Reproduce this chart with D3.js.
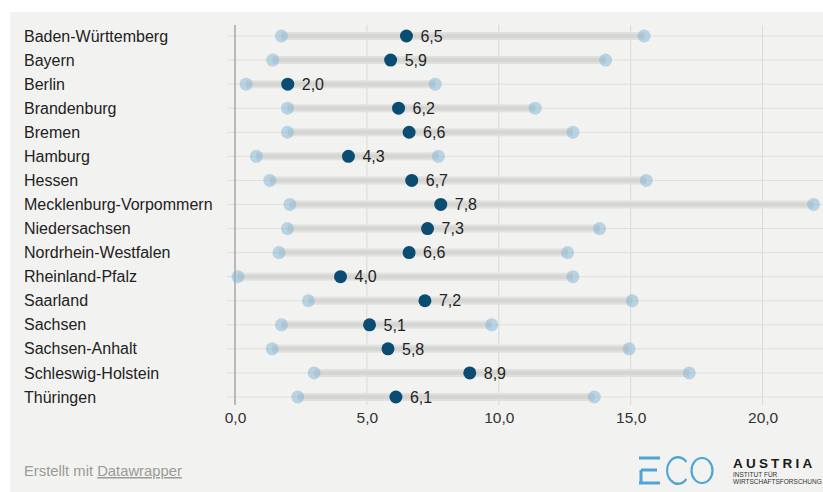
<!DOCTYPE html>
<html>
<head>
<meta charset="utf-8">
<script src="https://cdn.jsdelivr.net/npm/d3@7"></script>
<style>
  html, body { margin: 0; padding: 0; background: #ffffff; }
  svg { display: block; }
  text { font-family: "Liberation Sans", Arial, Helvetica, sans-serif; }
</style>
</head>
<body>
<svg id="chart" width="823" height="492"></svg>
<script>
// Bundesländer, ordered top to bottom
const states = [
  "Baden-Württemberg", "Bayern", "Berlin", "Brandenburg", "Bremen", "Hamburg",
  "Hessen", "Mecklenburg-Vorpommern", "Niedersachsen", "Nordrhein-Westfalen",
  "Rheinland-Pfalz", "Saarland", "Sachsen", "Sachsen-Anhalt",
  "Schleswig-Holstein", "Thüringen"
];
// lower end of the range per state
const lowValues = [1.76, 1.43, 0.42, 1.99, 1.99, 0.81, 1.32, 2.08, 1.99, 1.67,
                   0.11, 2.78, 1.76, 1.41, 3.0, 2.38];
// highlighted value (labelled)
const midValues = [6.5, 5.9, 2.0, 6.2, 6.6, 4.3, 6.7, 7.8, 7.3, 6.6,
                   4.0, 7.2, 5.1, 5.8, 8.9, 6.1];
// upper end of the range per state
const highValues = [15.51, 14.05, 7.59, 11.38, 12.81, 7.71, 15.59, 21.93, 13.82, 12.61,
                    12.81, 15.06, 9.73, 14.94, 17.22, 13.62];
const tickValues = [0, 5, 10, 15, 20];

const rows = states.map((s, i) => ({
  name: s, low: lowValues[i], mid: midValues[i], high: highValues[i]
}));

const svg = d3.select("#chart");
const fmt = v => d3.format(".1f")(v).replace(".", ",");

// panel background
svg.append("rect")
  .attr("x", 10).attr("y", 12)
  .attr("width", 813).attr("height", 480)
  .attr("fill", "#f2f2f0");

const x = d3.scaleLinear()
  .domain([0, d3.max(highValues)])
  .range([235, 813.5]);

const y = d3.scalePoint()
  .domain(states)
  .range([36, 397]);

// vertical grid
svg.append("g")
  .selectAll("line")
  .data(tickValues.filter(t => t > 0))
  .join("line")
  .attr("x1", d => x(d)).attr("x2", d => x(d))
  .attr("y1", 25).attr("y2", 405)
  .attr("stroke", "#d9d9d7").attr("stroke-width", 1);

// horizontal row lines
svg.append("g")
  .selectAll("line")
  .data(states)
  .join("line")
  .attr("x1", 227).attr("x2", 823)
  .attr("y1", d => y(d)).attr("y2", d => y(d))
  .attr("stroke", "#dededc").attr("stroke-width", 1);

// zero baseline
svg.append("line")
  .attr("x1", x(0)).attr("x2", x(0))
  .attr("y1", 25).attr("y2", 405)
  .attr("stroke", "#a6a6a4").attr("stroke-width", 1.5);

// x axis labels
const axis = d3.axisBottom(x).tickValues(tickValues).tickFormat(fmt).tickSize(0).tickPadding(0);
const gAxis = svg.append("g").attr("transform", "translate(0,412)").call(axis);
gAxis.select(".domain").remove();
gAxis.selectAll("text")
  .attr("font-size", 15.5)
  .attr("font-family", "'Liberation Sans', Arial, sans-serif")
  .attr("fill", "#333333")
  .attr("dy", "0.7em");

// row labels
svg.append("g")
  .selectAll("text")
  .data(rows)
  .join("text")
  .attr("x", 24)
  .attr("y", d => y(d.name))
  .attr("dy", "0.35em")
  .attr("font-size", 16)
  .attr("fill", "#222222")
  .text(d => d.name);

// range bars
const bars = svg.append("g");
bars.selectAll("line.outer")
  .data(rows)
  .join("line")
  .attr("class", "outer")
  .attr("x1", d => x(d.low)).attr("x2", d => x(d.high))
  .attr("y1", d => y(d.name)).attr("y2", d => y(d.name))
  .attr("stroke", "#e0e0de").attr("stroke-width", 8);
bars.selectAll("line.inner")
  .data(rows)
  .join("line")
  .attr("class", "inner")
  .attr("x1", d => x(d.low)).attr("x2", d => x(d.high))
  .attr("y1", d => y(d.name)).attr("y2", d => y(d.name))
  .attr("stroke", "#d5d5d3").attr("stroke-width", 4);

// range end dots (translucent)
const ends = svg.append("g");
["low", "high"].forEach(k => {
  ends.selectAll("circle." + k)
    .data(rows)
    .join("circle")
    .attr("class", k)
    .attr("cx", d => x(d[k]))
    .attr("cy", d => y(d.name))
    .attr("r", 6.5)
    .attr("fill", "#82b4d3")
    .attr("fill-opacity", 0.5);
});

// highlighted values
svg.append("g")
  .selectAll("circle")
  .data(rows)
  .join("circle")
  .attr("cx", d => x(d.mid))
  .attr("cy", d => y(d.name))
  .attr("r", 6.5)
  .attr("fill", "#0b4d72");

svg.append("g")
  .selectAll("text")
  .data(rows)
  .join("text")
  .attr("x", d => x(d.mid) + 14)
  .attr("y", d => y(d.name))
  .attr("dy", "0.36em")
  .attr("font-size", 16)
  .attr("fill", "#222222")
  .text(d => fmt(d.mid));

// footer credit
const credit = svg.append("text")
  .attr("x", 24).attr("y", 476)
  .attr("font-size", 14.8)
  .attr("fill", "#9a9a98");
credit.append("tspan").text("Erstellt mit ");
credit.append("tspan").attr("text-decoration", "underline").text("Datawrapper");

// publisher logo
const logo = svg.append("g");
const blue = "#4ea4d6";
logo.append("path")
  .attr("d", "M639,458 H660 M641,470 H657 M641,470 V483 M639,483 H660")
  .attr("fill", "none").attr("stroke", blue).attr("stroke-width", 3);
logo.append("path")
  .attr("d", d3.arc()({innerRadius: 12, outerRadius: 14.5,
                       startAngle: Math.PI * 0.72, endAngle: Math.PI * 2.28}))
  .attr("transform", "translate(678,470.5) scale(0.82,1)")
  .attr("fill", blue);
logo.append("ellipse")
  .attr("cx", 702).attr("cy", 470.5).attr("rx", 10.5).attr("ry", 12.5)
  .attr("fill", "none").attr("stroke", blue).attr("stroke-width", 2.2);
logo.append("text")
  .attr("x", 733).attr("y", 467.5)
  .attr("font-size", 13.5).attr("font-weight", "bold")
  .attr("letter-spacing", 3.2)
  .attr("fill", "#1a1a1a")
  .text("AUSTRIA");
logo.append("text")
  .attr("x", 733).attr("y", 477)
  .attr("font-size", 6.5).attr("fill", "#333")
  .text("INSTITUT FÜR");
logo.append("text")
  .attr("x", 733).attr("y", 483.5)
  .attr("font-size", 6.5).attr("fill", "#333")
  .text("WIRTSCHAFTSFORSCHUNG");
</script>
</body>
</html>
